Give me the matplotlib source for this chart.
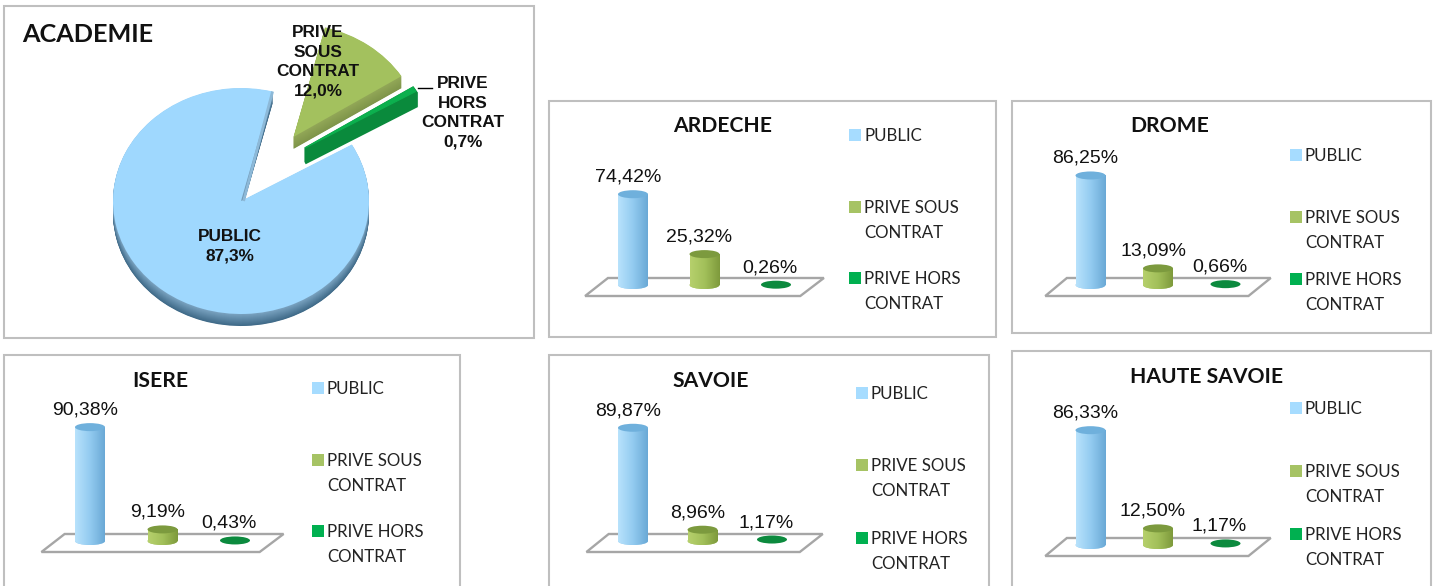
import matplotlib
matplotlib.use('Agg')
import matplotlib.pyplot as plt
import numpy as np
from matplotlib.colors import LinearSegmentedColormap, to_hex, to_rgb
from matplotlib.patches import Ellipse, Polygon, Rectangle

W, H = 1443, 586

# data
secteurs = ['PUBLIC', 'PRIVE SOUS\nCONTRAT', 'PRIVE HORS\nCONTRAT']
academie = [87.3, 12.0, 0.7]
academie_labels = ['PUBLIC\n87,3%', 'PRIVE\nSOUS\nCONTRAT\n12,0%', 'PRIVE\nHORS\nCONTRAT\n0,7%']

ardeche = [74.42, 25.32, 0.26]
drome = [86.25, 13.09, 0.66]
isere = [90.38, 9.19, 0.43]
savoie = [89.87, 8.96, 1.17]
haute_savoie = [86.33, 12.50, 1.17]

ardeche_txt = ['74,42%', '25,32%', '0,26%']
drome_txt = ['86,25%', '13,09%', '0,66%']
isere_txt = ['90,38%', '9,19%', '0,43%']
savoie_txt = ['89,87%', '8,96%', '1,17%']
haute_savoie_txt = ['86,33%', '12,50%', '1,17%']

# layout in pixels: frame, first bar x, bar spacing, base y, px per %, title, legend
panels = [
    dict(name='ARDECHE', v=ardeche, t=ardeche_txt, frame=(549, 101, 996, 337), x0=633, dx=71.5,
         base=285, sy=1.22, title=(723, 126), leg=(849, 135, 207, 278), fr=2.34),
    dict(name='DROME', v=drome, t=drome_txt, frame=(1012, 101, 1431, 333), x0=1090.5, dx=67.5,
         base=285, sy=1.27, title=(1170, 126), leg=(1290, 155, 217, 279), fr=2.34),
    dict(name='ISERE', v=isere, t=isere_txt, frame=(4, 355, 460, 590), x0=90, dx=72.5,
         base=541, sy=1.26, title=(160, 381), leg=(312, 388, 460, 531), fr=2.34),
    dict(name='SAVOIE', v=savoie, t=savoie_txt, frame=(549, 355, 989, 590), x0=633, dx=69.5,
         base=541, sy=1.26, title=(711, 381), leg=(856, 393, 465, 538), fr=2.40),
    dict(name='HAUTE SAVOIE', v=haute_savoie, t=haute_savoie_txt, frame=(1012, 351, 1431, 590), x0=1090.5, dx=67.5,
         base=545, sy=1.33, title=(1207, 377), leg=(1290, 408, 471, 534), fr=2.34),
]

top_cols = ['#6fb0dc', '#7c9a3e', '#0c8a3e']
grads = [['#b8e2fc', '#93cbf0', '#6aa9d6'], ['#b6d06c', '#a2c05a', '#7e9a3c'], ['#0c8a3e', '#0c8a3e', '#0c8a3e']]
leg_cols = ['#a6dcff', '#a6c364', '#00b050']
FRAME = '#bfbfbf'

fig = plt.figure(figsize=(W / 100, H / 100), dpi=100)
bg = fig.add_axes([0, 0, 1, 1])
bg.set_xlim(0, W)
bg.set_ylim(H, 0)
bg.axis('off')


def px_axes(x0, y0, x1, y1):
    ax = fig.add_axes([x0 / W, 1 - min(y1, H) / H, (x1 - x0) / W, (min(y1, H) - y0) / H])
    ax.patch.set_alpha(0)
    ax.axis('off')
    return ax


def frame(x0, y0, x1, y1):
    bg.add_patch(Rectangle((x0, y0), x1 - x0, y1 - y0, fc='white', ec=FRAME, lw=1.5))


def gradient(ax, patch, x0, x1, y0, y1, colors):
    cmap = LinearSegmentedColormap.from_list('c', colors)
    im = ax.imshow(np.linspace(0, 1, 64).reshape(1, -1), extent=(x0, x1, y0, y1), cmap=cmap,
                   aspect='auto', zorder=patch.get_zorder() + 0.1)
    im.set_clip_path(patch)


def small_panel(p):
    fx0, fy0, fx1, fy1 = p['frame']
    frame(fx0, fy0, fx1, fy1)
    ax = px_axes(fx0, fy0, fx1, fy1)
    sx, sy = p['dx'], p['sy']
    wid = 30 / sx
    eh = 8 / sy
    # plancher
    bot, top = -11 / sy, 7 / sy
    fr = p['fr']
    ax.add_patch(Polygon([(-0.67, bot), (fr, bot), (fr + 0.33, top), (-0.35, top)], fc='white', ec='#a6a6a6',
                         lw=1.7, zorder=1))
    for i, v in enumerate(p['v']):
        if v >= 2:
            bars = ax.bar(i, v, wid, color=grads[i][1], zorder=3)
            gradient(ax, bars[0], i - wid / 2, i + wid / 2, 0, v, grads[i])
            foot = Ellipse((i, 0), wid, eh, fc=grads[i][1], ec='none', zorder=3)
            ax.add_patch(foot)
            gradient(ax, foot, i - wid / 2, i + wid / 2, -eh, eh, grads[i])
        ax.add_patch(Ellipse((i, v), wid, eh, fc=top_cols[i], ec='none', zorder=4))
        ax.annotate(p['t'][i], (i, v), xytext=(-5 if i < 2 else -6, 17), textcoords='offset pixels',
                    ha='center', va='center', fontsize=14, family='Liberation Sans', color='#111111')
    ax.set_xlim((fx0 - p['x0']) / sx, (fx1 - p['x0']) / sx)
    ax.set_ylim((p['base'] - min(fy1, H)) / sy, (p['base'] - fy0) / sy)
    # titre + legende
    bg.text(p['title'][0], p['title'][1], p['name'], ha='center', va='center', fontsize=15.2, fontweight='bold',
            family='Lato', color='#111111')
    lx, ly = p['leg'][0], p['leg'][1:]
    for j, name in enumerate(secteurs):
        bg.add_patch(Rectangle((lx, ly[j] - 6), 12, 12, fc=leg_cols[j], ec='none'))
        bg.text(lx + 15, ly[j] - 7, name, ha='left', va='top', fontsize=12.2, family='Lato', color='#222222',
                linespacing=1.66)


# ACADEMIE (camembert)
frame(4, 6, 534, 338)
ax = px_axes(4, 6, 534, 338)
cx, cy, rx, ry = 241, 201, 128, 113
rim_a = ['#7ba4c2', '#93a858', '#0a8a3c']
rim_b = ['#3f6a88', '#7f954a', '#0a8a3c']
pie_top = ['#9fd8fe', '#a3c15e', '#0cb04e']
start = 30


def shade(a, b, f):
    return to_hex((1 - f) * np.array(to_rgb(a)) + f * np.array(to_rgb(b)))


# public + sous contrat, empiles pour l'epaisseur
depth = 24
for k in range(depth, 0, -1):
    f = k / depth
    cols = [shade(rim_a[0], rim_b[0], f), shade(rim_a[1], rim_b[1], f), 'none']
    ax.pie(academie, explode=[0, 0.7, 0], startangle=start, counterclock=False, colors=cols,
           center=(0, -12 * f / ry))
ax.pie(academie, explode=[0, 0.7, 0], startangle=start, counterclock=False, colors=pie_top[:2] + ['none'])

# hors contrat decale a part, avec un trait pour boucher la pointe
gx, gy = 0.5, 0.47
for k in range(15, 0, -1):
    w = ax.pie(academie, startangle=start, counterclock=False, colors=['none', 'none', rim_a[2]],
               center=(gx, gy - k / ry))[0]
    w[2].set(edgecolor=rim_a[2], linewidth=2.2)
w = ax.pie(academie, startangle=start, counterclock=False, colors=['none', 'none', pie_top[2]], center=(gx, gy))[0]
w[2].set(edgecolor=pie_top[2], linewidth=0.8)

# arete du secteur public, cote coupe
ang = np.deg2rad(start - academie[0] * 3.6)
ax.plot([0.02, np.cos(ang)], [0, np.sin(ang)], color='#8db9d8', lw=2, solid_capstyle='butt')

ax.set_aspect('auto')
ax.set_xlim((4 - cx) / rx, (534 - cx) / rx)
ax.set_ylim((cy - 338) / ry, (cy - 6) / ry)
ax.set_frame_on(False)

lab = fig.add_axes([0, 0, 1, 1], zorder=5)
lab.set_xlim(0, W)
lab.set_ylim(H, 0)
lab.axis('off')
lab.patch.set_alpha(0)
for (x, y), s in zip([(230, 246), (318, 62), (463, 113)], academie_labels):
    lab.text(x, y, s, ha='center', va='center', fontsize=12.4, fontweight='bold', family='Liberation Sans',
             color='#111111', linespacing=1.38)
lab.plot([418, 432], [88, 88], color='black', lw=1)
lab.text(22, 35, 'ACADEMIE', ha='left', va='center', fontsize=18.2, fontweight='bold', family='Lato', color='#111111')

for p in panels:
    small_panel(p)

fig.savefig('out.png', dpi=100)
